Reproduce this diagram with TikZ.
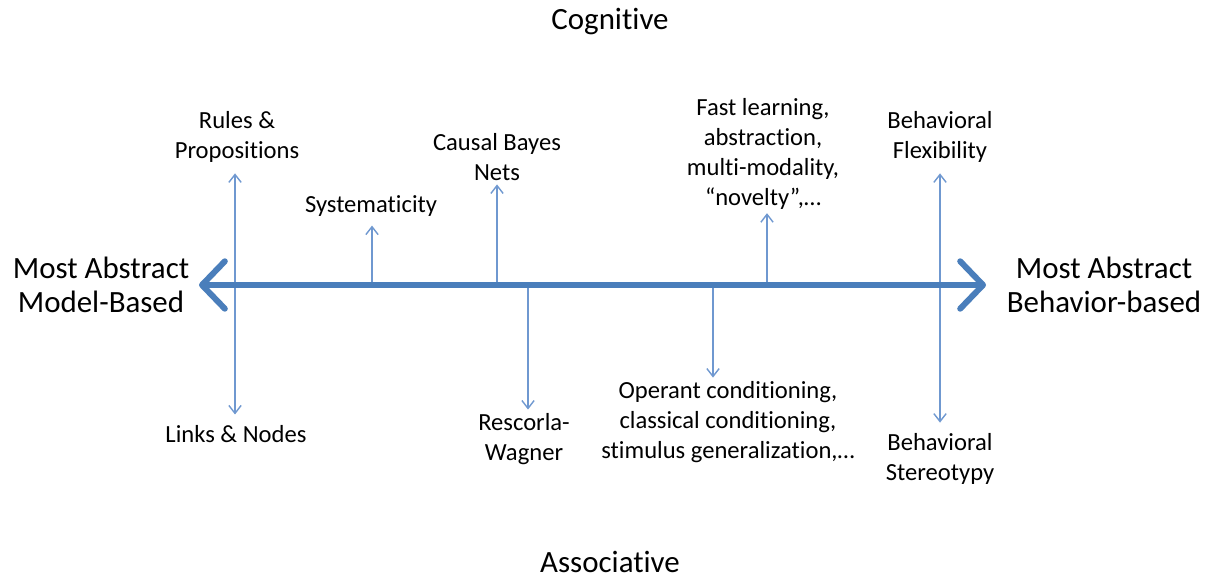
\documentclass[tikz,border=0pt]{standalone}
\usepackage{fontspec}
\setmainfont{Carlito}[Ligatures={TeX,NoCommon}]
\usepackage{tikz}
\usetikzlibrary{arrows.meta}
\definecolor{axisblue}{HTML}{4A7EBB}
\definecolor{thinblue}{HTML}{6F98D0}

\begin{document}
\begin{tikzpicture}[>=stealth, scale=1.0,
    lbl/.style={align=center, font=\fontsize{14}{17}\selectfont, inner sep=2pt},
    big/.style={align=center, font=\fontsize{17.6}{19.5}\selectfont},
    thinarr/.style={draw=thinblue, line width=0.8pt, -{Straight Barb[length=4.5pt,width=7pt]}},
    twoway/.style={thinarr, {Straight Barb[length=4.5pt,width=7pt]}-{Straight Barb[length=4.5pt,width=7pt]}},
    axisarr/.style={draw=axisblue, line width=3.4pt,
      {Straight Barb[length=13pt,width=27pt,round]}-{Straight Barb[length=13pt,width=27pt,round]}}]
  \useasboundingbox (0,0) rectangle (24.28,11.6);
  % end labels
  \node[big] (left) at (2.02,5.9) {Most Abstract\\Model-Based};
  \node[big] (right) at (22.08,5.9) {Most Abstract\\Behavior-based};
  \node[big] (cog) at (12.2,11.16) {Cognitive};
  \node[big] (assoc) at (12.2,0.36) {Associative};
  % axis points
  \coordinate (axl) at (3.98,5.9); \coordinate (axr) at (19.72,5.9);
  \coordinate (b-rp) at (4.7,5.9);    \coordinate (b-beh) at (18.8,5.9);
  \coordinate (b-sys) at (7.44,5.9);  \coordinate (b-cbn) at (9.94,5.9);
  \coordinate (b-rw) at (10.56,5.9);  \coordinate (b-op) at (14.26,5.9);
  \coordinate (b-fast) at (15.34,5.9);
  % labels
  \node[lbl] (rules) at (4.74,8.86) {Rules \&\\Propositions};
  \node[lbl] (links) at (4.72,2.92) {Links \& Nodes};
  \node[lbl] (sys) at (7.42,7.48) {Systematicity};
  \node[lbl] (cbn) at (9.94,8.46) {Causal Bayes\\Nets};
  \node[lbl] (rw) at (10.48,2.82) {Rescorla-\\Wagner};
  \node[lbl] (op) at (14.56,3.16) {Operant conditioning,\\classical conditioning,\\stimulus generalization,\ldots};
  \node[lbl] (fast) at (15.26,8.52) {Fast learning,\\abstraction,\\multi-modality,\\``novelty'',\ldots};
  \node[lbl] (flex) at (18.8,8.86) {Behavioral\\Flexibility};
  \node[lbl] (stereo) at (18.8,2.42) {Behavioral\\Stereotypy};
  % connectors
  \draw[thinarr, shorten >=3pt] (b-sys) -- (b-sys |- sys.south);
  \draw[thinarr] (b-cbn) -- (b-cbn |- cbn.south);
  \draw[thinarr] (b-rw) -- (b-rw |- rw.north);
  \draw[thinarr] (b-op) -- (b-op |- op.north);
  \draw[thinarr] (b-fast) -- (b-fast |- fast.south);
  \draw[twoway, shorten <=4pt, shorten >=4pt] (b-rp |- rules.south) -- (b-rp |- links.north);
  \draw[twoway, shorten <=4pt, shorten >=4pt] (b-beh |- flex.south) -- (b-beh |- stereo.north);
  \draw[axisarr] (axl) -- (axr);
\end{tikzpicture}
\end{document}
